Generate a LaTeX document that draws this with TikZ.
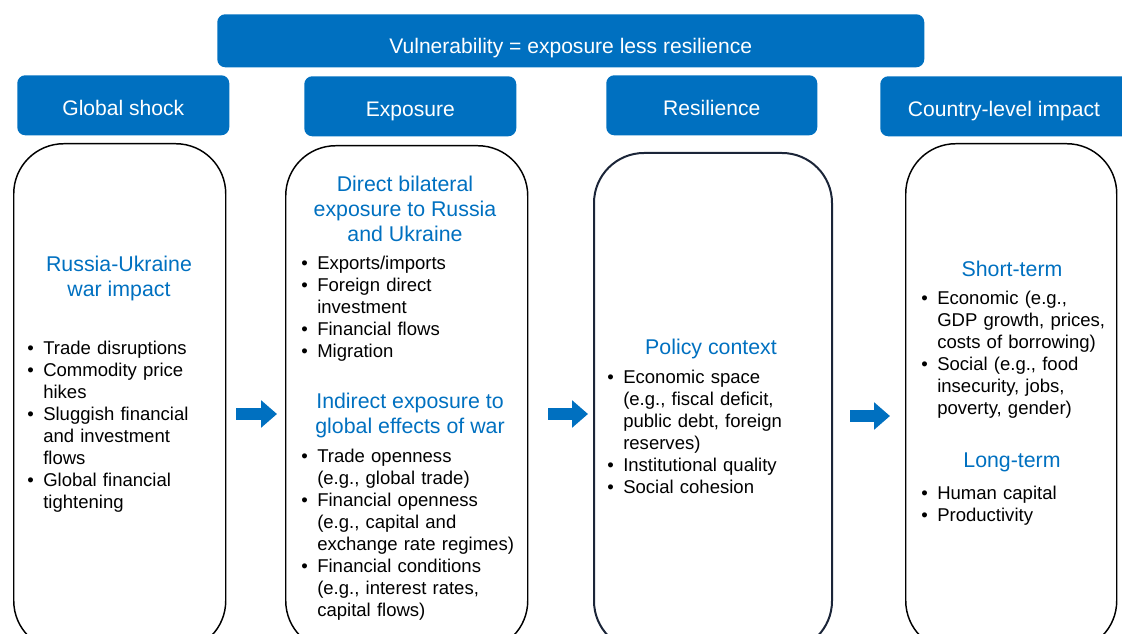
\documentclass[tikz,border=0pt]{standalone}
\usepackage{fontspec}
\setmainfont{Liberation Sans}
\usetikzlibrary{arrows.meta}
\definecolor{ibblue}{HTML}{0070C0}
\definecolor{navy}{HTML}{1B2538}
\tikzset{
  hdr/.style={fill=ibblue, rounded corners=6pt, text=white, inner sep=0pt, text height=15.8pt, text depth=0pt,
    anchor=north west, font=\fontsize{15.8}{19}\selectfont},
  body/.style={draw=black, line width=1.1pt, rounded corners=37.5pt, inner sep=0pt, anchor=north west},
  ttl/.style={text=ibblue, align=center, inner sep=0pt, font=\fontsize{16}{18.75}\selectfont},
  blist/.style={anchor=north west, inner sep=0pt, text width=175pt, align=left,
    font=\fontsize{13.9}{16.5}\selectfont},
  blockarrow/.style={ibblue, line width=9pt, -{Triangle[length=12pt,width=20pt]}}
}
\newcommand{\bitem}[1]{\hangindent=13.5pt\hangafter=1\noindent\makebox[13.5pt][l]{\hspace{1.5pt}\textbullet}#1\par}
\begin{document}
\begin{tikzpicture}[x=0.75pt,y=-0.75pt]
\useasboundingbox (0,0) rectangle (1122,634);
\clip (0,0) rectangle (1122,634);
% headers
\node[hdr, minimum width=530.25pt, minimum height=39.75pt, text height=19.5pt] (vuln) at (217,14) {Vulnerability = exposure less resilience};
\node[hdr, minimum width=159pt, minimum height=45pt] (shockhdr) at (17,75) {Global shock};
\node[hdr, minimum width=159pt, minimum height=45pt] (expohdr) at (304,76) {Exposure};
\node[hdr, minimum width=158.25pt, minimum height=45pt] (resilhdr) at (606,75) {Resilience};
\node[hdr, minimum width=192pt, minimum height=45pt] (impacthdr) at (880,76) {\hspace*{-6.5pt}Country-level impact};
% boxes
\node[body, minimum width=159pt, minimum height=380.25pt] (shockbox) at (13,143) {};
\node[body, minimum width=181.5pt, minimum height=378.75pt] (expobox) at (285,145) {};
\node[body, draw=navy, line width=1.5pt, minimum width=178.5pt, minimum height=373.5pt] (resilbox) at (593,152) {};
\node[body, minimum width=158.25pt, minimum height=380.25pt] (impactbox) at (905,143) {};
% arrows
\coordinate (arrowrow) at (0,414);
\draw[blockarrow, shorten <=7.5pt, shorten >=6pt] (shockbox.east |- arrowrow) -- (expobox.west |- arrowrow);
\draw[blockarrow, shorten <=15pt, shorten >=3.75pt] (expobox.east |- arrowrow) -- (resilbox.west |- arrowrow);
\draw[blockarrow, shorten <=12.75pt, shorten >=11.25pt] ([yshift=-1.5pt]resilbox.east |- arrowrow) -- ([yshift=-1.5pt]impactbox.west |- arrowrow);
% global shock
\node[ttl] (shockttl) at (119,278) {Russia-Ukraine\\war impact};
\node[blist] (shocklist) at (25,341) {\bitem{Trade disruptions}\bitem{Commodity price\newline hikes}\bitem{Sluggish financial\newline and investment\newline flows}\bitem{Global financial\newline tightening}};
% exposure
\node[ttl] (directttl) at (405,209) {Direct bilateral\\exposure to Russia\\and Ukraine};
\node[blist] (directlist) at (299,256) {\bitem{Exports/imports}\bitem{Foreign direct\newline investment}\bitem{Financial flows}\bitem{Migration}};
\node[ttl] (indirectttl) at (410,415.5) {Indirect exposure to\\global effects of war};
\node[blist] (indirectlist) at (299,449) {\bitem{Trade openness\newline (e.g., global trade)}\bitem{Financial openness\newline (e.g., capital and\newline exchange rate regimes)}\bitem{Financial conditions\newline (e.g., interest rates,\newline capital flows)}};
% resilience
\node[ttl] (policyttl) at (711,349) {Policy context};
\node[blist] (policylist) at (605,370) {\bitem{Economic space\newline (e.g., fiscal deficit,\newline public debt, foreign\newline reserves)}\bitem{Institutional quality}\bitem{Social cohesion}};
% country-level impact
\node[ttl] (shortttl) at (1012,269) {Short-term};
\node[blist] (shortlist) at (919,291) {\bitem{Economic (e.g.,\newline GDP growth, prices,\newline costs of borrowing)}\bitem{Social (e.g., food\newline insecurity, jobs,\newline poverty, gender)}};
\node[ttl] (longttl) at (1012,462) {Long-term};
\node[blist] (longlist) at (919,486) {\bitem{Human capital}\bitem{Productivity}};
\end{tikzpicture}
\end{document}
